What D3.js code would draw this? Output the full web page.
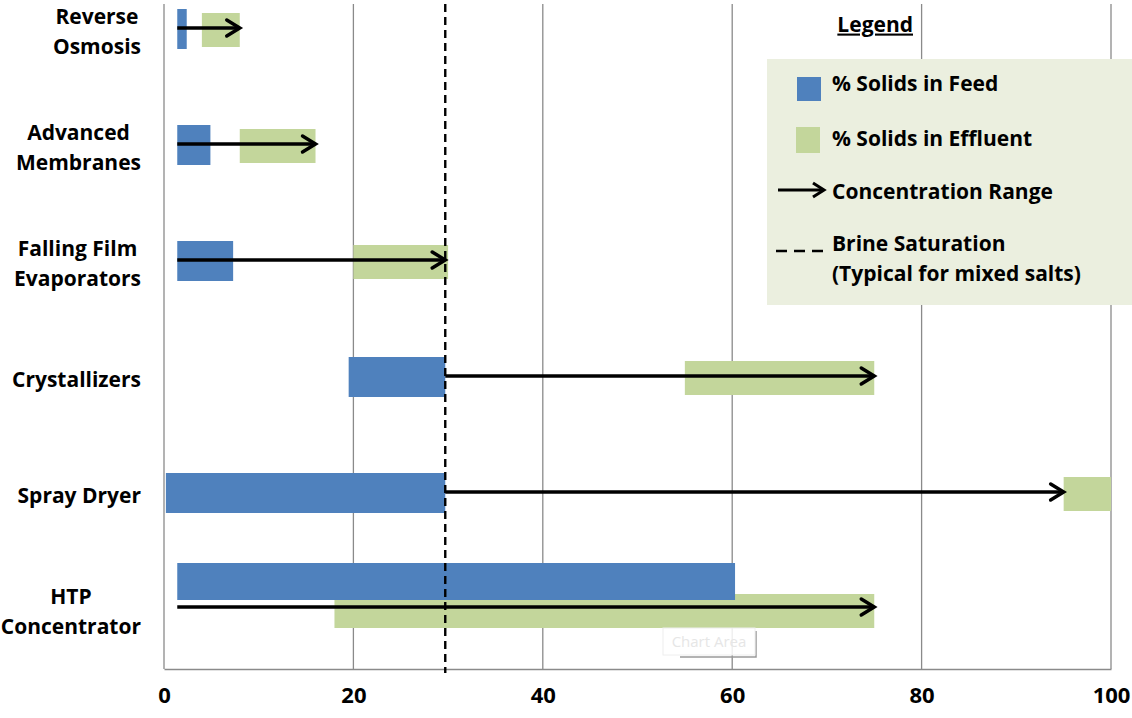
<!DOCTYPE html>
<html>
<head>
<meta charset="utf-8">
<script src="https://cdn.jsdelivr.net/npm/d3@7"></script>
<style>
  html, body { margin: 0; padding: 0; background: #ffffff; }
  svg { display: block; }
  text { font-family: "Open Sans", "Liberation Sans", sans-serif; font-weight: 700; fill: #000; }
</style>
</head>
<body>
<svg id="chart" width="1132" height="718"></svg>
<script>
// Desalination / brine concentration technologies
const categories = [
  ["Reverse", "Osmosis"],
  ["Advanced", "Membranes"],
  ["Falling Film", "Evaporators"],
  ["Crystallizers"],
  ["Spray Dryer"],
  ["HTP", "Concentrator"]
];
// % solids in feed (min, max)
const feedMin = [1.4, 1.4, 1.4, 19.5, 0.2, 1.4];
const feedMax = [2.4, 4.9, 7.3, 29.7, 29.7, 60.3];
// % solids in effluent (min, max)
const effMin = [4.0, 8.0, 20.0, 55.0, 95.0, 18.0];
const effMax = [8.0, 16.0, 30.0, 75.0, 100.0, 75.0];
// concentration range arrows (from, to)
const arrowFrom = [1.4, 1.4, 1.4, 29.7, 29.7, 1.4];
const arrowTo = [8.0, 16.0, 29.7, 75.0, 95.0, 75.0];
// brine saturation (typical for mixed salts)
const brineSaturation = 29.7;
const xTicks = [0, 20, 40, 60, 80, 100];
const legendItems = ["% Solids in Feed", "% Solids in Effluent", "Concentration Range", ["Brine Saturation", "(Typical for mixed salts)"]];

const BLUE = "#4f81bd", GREEN = "#c3d69b", GRID = "#8a8a8a";
const FS = "21px";

const svg = d3.select("#chart");
const plot = { left: 164, right: 1111, top: 4, bottom: 669 };

const x = d3.scaleLinear().domain([0, 100]).range([plot.left, plot.right]);
const y = d3.scalePoint().domain(d3.range(categories.length)).range([29, 609]);

// gridlines
svg.append("g").selectAll("line").data(xTicks.filter(d => d > 0)).join("line")
  .attr("x1", d => x(d)).attr("x2", d => x(d))
  .attr("y1", plot.top).attr("y2", plot.bottom)
  .attr("stroke", GRID).attr("stroke-width", 1.3);

// axes lines
svg.append("line").attr("x1", plot.left).attr("x2", plot.left)
  .attr("y1", plot.top).attr("y2", plot.bottom).attr("stroke", GRID).attr("stroke-width", 1.3);

const xAxis = d3.axisBottom(x).tickValues(xTicks).tickSize(0).tickPadding(22).tickFormat(d3.format("d"));
const gx = svg.append("g").attr("transform", `translate(0,${plot.bottom})`).call(xAxis);
gx.select(".domain").attr("stroke", GRID).attr("stroke-width", 1.3);
gx.selectAll("text").style("font-size", "22px").style("font-weight", 700)
  .style("font-family", '"Open Sans", sans-serif').attr("fill", "#000").attr("dy", "0.55em");

// bar geometry for each row: split vertically when feed and effluent ranges overlap
function geom(i) {
  const c = y(i);
  const overlap = effMin[i] < feedMax[i];
  if (overlap) {
    return { bTop: c - 46, bH: 37, gTop: c - 15, gH: 34, a: c - 2 };
  }
  return { bTop: c - 20, bH: 40, gTop: c - 16, gH: 34, a: c - 1 };
}

const rows = d3.range(categories.length);
svg.append("clipPath").attr("id", "plotclip").append("rect")
  .attr("x", plot.left).attr("y", plot.top).attr("width", plot.right - plot.left + 2).attr("height", plot.bottom - plot.top);

const marks = svg.append("g").attr("clip-path", "url(#plotclip)");

// effluent bars
marks.selectAll("rect.eff").data(rows).join("rect").attr("class", "eff")
  .attr("x", i => x(effMin[i])).attr("width", i => x(effMax[i]) - x(effMin[i]))
  .attr("y", i => geom(i).gTop).attr("height", i => geom(i).gH)
  .attr("fill", GREEN);

// feed bars
marks.selectAll("rect.feed").data(rows).join("rect").attr("class", "feed")
  .attr("x", i => x(feedMin[i])).attr("width", i => x(feedMax[i]) - x(feedMin[i]))
  .attr("y", i => geom(i).bTop).attr("height", i => geom(i).bH)
  .attr("fill", BLUE);

// brine saturation line
svg.append("line")
  .attr("x1", x(brineSaturation)).attr("x2", x(brineSaturation))
  .attr("y1", plot.top).attr("y2", plot.bottom + 4)
  .attr("stroke", "#000").attr("stroke-width", 2.4).attr("stroke-dasharray", "8,5");

// concentration arrows
function arrow(g, x1, x2, yy) {
  g.append("line").attr("x1", x1).attr("x2", x2 - 1.5).attr("y1", yy).attr("y2", yy)
    .attr("stroke", "#000").attr("stroke-width", 3.5);
  g.append("path").attr("d", `M${x2 - 13},${yy - 8}L${x2},${yy}L${x2 - 13},${yy + 8}`)
    .attr("fill", "none").attr("stroke", "#000").attr("stroke-width", 3.5)
    .attr("stroke-linecap", "round").attr("stroke-linejoin", "miter");
}
const arrows = svg.append("g");
rows.forEach(i => arrow(arrows, x(arrowFrom[i]), x(arrowTo[i]), geom(i).a));

// category labels: lines centered within a right-aligned block
const labelRight = 141, lineH = 30;
const lab = svg.append("g");
rows.forEach(i => {
  const lines = categories[i];
  const t = lab.append("text").style("font-size", FS).attr("text-anchor", "middle");
  const y0 = y(i) + 2 - (lines.length - 1) * lineH / 2;
  lines.forEach((s, k) => t.append("tspan").attr("y", y0 + k * lineH).attr("dy", "0.36em").text(s));
  let w = 0;
  t.selectAll("tspan").each(function () { w = Math.max(w, this.getComputedTextLength()); });
  t.selectAll("tspan").attr("x", labelRight - w / 2);
});

// legend
const lg = svg.append("g");
lg.append("text").attr("x", 913).attr("y", 24).attr("dy", "0.36em").attr("text-anchor", "end")
  .style("font-size", FS).style("text-decoration", "underline").text("Legend");
lg.append("rect").attr("x", 767).attr("y", 59).attr("width", 370).attr("height", 246).attr("fill", "#ebefdf");
lg.append("rect").attr("x", 797).attr("y", 77).attr("width", 24).attr("height", 24).attr("fill", BLUE);
lg.append("rect").attr("x", 796).attr("y", 127).attr("width", 24).attr("height", 26).attr("fill", GREEN);
lg.append("line").attr("x1", 778).attr("x2", 823).attr("y1", 190).attr("y2", 190).attr("stroke", "#000").attr("stroke-width", 3);
lg.append("path").attr("d", "M813,183L824,190L813,197").attr("fill", "none").attr("stroke", "#000").attr("stroke-width", 3);
lg.append("line").attr("x1", 776).attr("x2", 829).attr("y1", 251).attr("y2", 251)
  .attr("stroke", "#000").attr("stroke-width", 2.5).attr("stroke-dasharray", "11,7");
const legendY = [83, 138, 191, [243, 273]];
legendItems.forEach((item, k) => {
  const lines = Array.isArray(item) ? item : [item];
  const ys = Array.isArray(legendY[k]) ? legendY[k] : [legendY[k]];
  lines.forEach((s, j) => lg.append("text").attr("x", 832).attr("y", ys[j]).attr("dy", "0.36em")
    .style("font-size", FS).text(s));
});

// hover tip over the chart area
const tip = svg.append("g");
tip.append("path").attr("d", "M756,631V657H680").attr("fill", "none").attr("stroke", "#9a9a9a").attr("stroke-width", 1.5);
tip.append("rect").attr("x", 663).attr("y", 628).attr("width", 92).attr("height", 27)
  .attr("fill", "#ffffff").attr("fill-opacity", 0.85).attr("stroke", "#eeeeee");
tip.append("text").attr("x", 709).attr("y", 642).attr("dy", "0.36em").attr("text-anchor", "middle")
  .style("font-size", "15px").style("font-weight", 400).style("fill", "#e6e6e6").text("Chart Area");
</script>
</body>
</html>
